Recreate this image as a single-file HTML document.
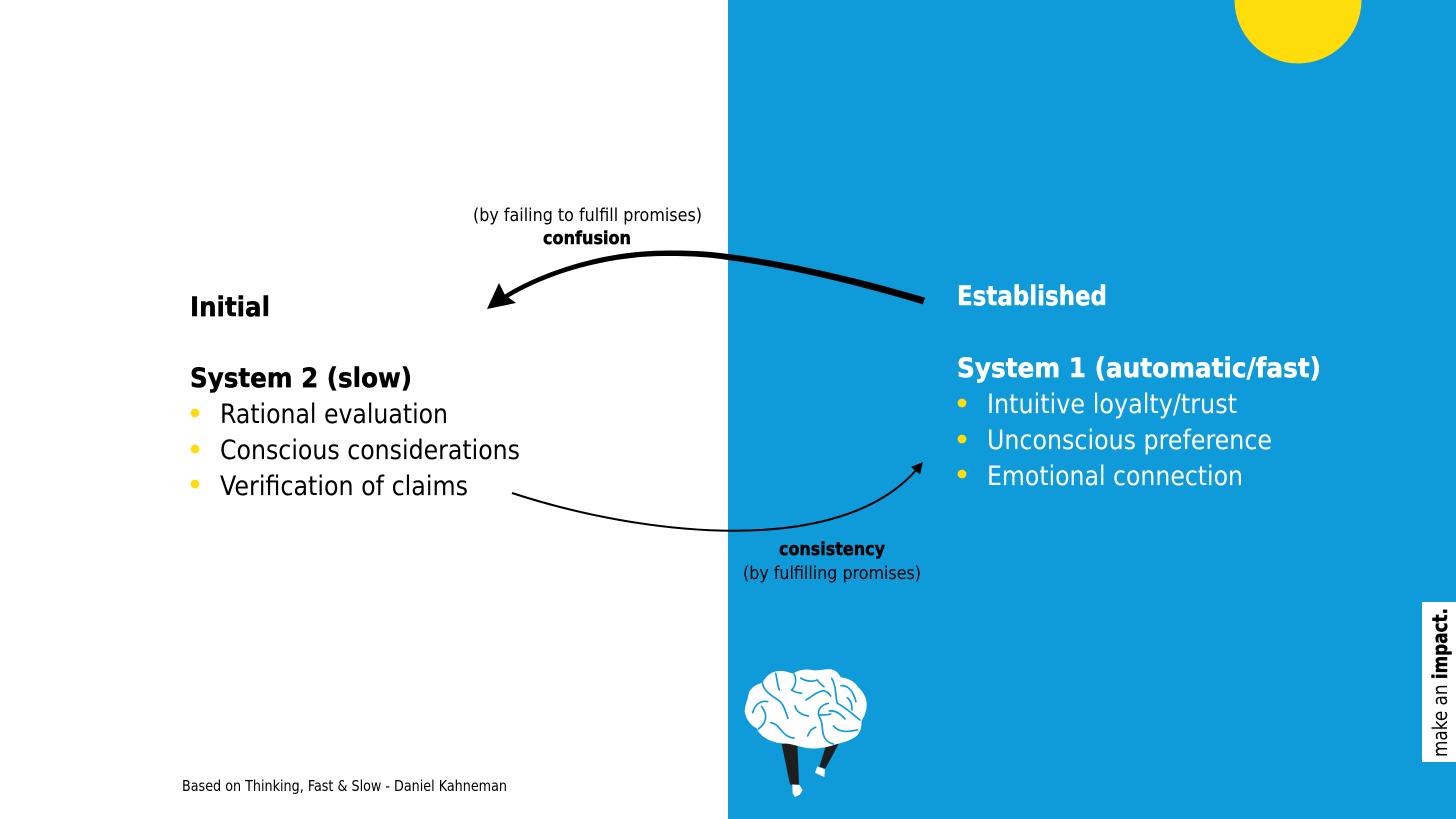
<!DOCTYPE html>
<html lang="en">
<head>
<meta charset="utf-8">
<title>System 1 and System 2</title>
<style>
html,body{margin:0;padding:0;background:#fff;width:1456px;height:819px;overflow:hidden}
svg{display:block}
text{font-family:"DejaVu Sans","Liberation Sans",sans-serif;fill:#000}
.b{font-weight:700;stroke:#000;stroke-width:.45px}
.h{font-size:27px}
.s{font-size:18px}
.w{fill:#fff}
.b.w{stroke:#fff}
</style>
</head>
<body>
<svg width="1456" height="819" viewBox="0 0 1456 819" xmlns="http://www.w3.org/2000/svg">
<rect width="1456" height="819" fill="#fff"/>
<rect x="728" y="0" width="728" height="819" fill="#0F9AD9"/>
<circle cx="1298" cy="0" r="63.5" fill="#FFDD0A"/>

<!-- Left text -->
<text class="h b" x="190" y="316" textLength="80" lengthAdjust="spacingAndGlyphs">Initial</text>
<text class="h b" x="190" y="387" textLength="222" lengthAdjust="spacingAndGlyphs">System 2 (slow)</text>
<circle cx="195" cy="413" r="4.4" fill="#FFDD0A"/>
<circle cx="195" cy="449" r="4.4" fill="#FFDD0A"/>
<circle cx="195" cy="484" r="4.4" fill="#FFDD0A"/>
<text class="h" x="220" y="423" textLength="228" lengthAdjust="spacingAndGlyphs">Rational evaluation</text>
<text class="h" x="220" y="459" textLength="300" lengthAdjust="spacingAndGlyphs">Conscious considerations</text>
<text class="h" x="220" y="495" textLength="248" lengthAdjust="spacingAndGlyphs">Verification of claims</text>

<!-- Right text -->
<text class="h b w" x="957" y="305" textLength="150" lengthAdjust="spacingAndGlyphs">Established</text>
<text class="h b w" x="957" y="377" textLength="364" lengthAdjust="spacingAndGlyphs">System 1 (automatic/fast)</text>
<circle cx="962" cy="403" r="4.4" fill="#FFDD0A"/>
<circle cx="962" cy="439" r="4.4" fill="#FFDD0A"/>
<circle cx="962" cy="474" r="4.4" fill="#FFDD0A"/>
<text class="h w" x="987" y="413" textLength="250" lengthAdjust="spacingAndGlyphs">Intuitive loyalty/trust</text>
<text class="h w" x="987" y="449" textLength="285" lengthAdjust="spacingAndGlyphs">Unconscious preference</text>
<text class="h w" x="987" y="485" textLength="256" lengthAdjust="spacingAndGlyphs">Emotional connection</text>

<!-- Arrow labels -->
<text class="s" x="473" y="221" textLength="229" lengthAdjust="spacingAndGlyphs">(by failing to fulfill promises)</text>
<text class="s b" x="543" y="244" textLength="88" lengthAdjust="spacingAndGlyphs">confusion</text>
<text class="s b" x="779" y="555" textLength="106" lengthAdjust="spacingAndGlyphs">consistency</text>
<text class="s" x="743" y="579" textLength="178" lengthAdjust="spacingAndGlyphs">(by fulfilling promises)</text>

<!-- Thick tapered arrow -->
<path d="M925,297.6 C860,278.5 790,262 728.4,254 C710,251.5 690,250.2 663,250.6 C600,251.2 539,273 503.8,295.1 L506.2,298.9 C541,277 600,256.6 663,256 C690,255.8 710,257 727.6,260 C790,268 860,285.5 923,304.4 Z" fill="#000"/>
<polygon points="487,309 499,283 505,295 516,303" fill="#000"/>

<!-- Thin arrow -->
<path d="M512,493 C640,535 840,560 918,468" fill="none" stroke="#000" stroke-width="2"/>
<polygon points="923,462 920,474.5 911,467" fill="#000"/>

<!-- Footer -->
<text x="182" y="791" font-size="15" textLength="325" lengthAdjust="spacingAndGlyphs">Based on Thinking, Fast &amp; Slow - Daniel Kahneman</text>

<!-- Brand tab -->
<rect x="1422" y="602" width="34" height="160" fill="#fff"/>
<text transform="translate(1447,757) rotate(-90)" font-size="20" textLength="149" lengthAdjust="spacingAndGlyphs">make an <tspan class="b">impact.</tspan></text>

<!-- Brain -->
<g transform="translate(720,650) scale(0.3333)">
<path d="M185,282 L232,279 L237,404 L210,404 Z" fill="#1E1E1E"/>
<path d="M318,287 L356,282 L316,356 L298,350 Z" fill="#1E1E1E"/>
<path d="M217,403 L238,405 L248,420 L240,434 L225,441 L218,430 Z" fill="#fff"/>
<path d="M292,349 L315,358 L313,381 L297,374 L285,368 Z" fill="#fff"/>
<path d="M74,185 C74,165 84,150 86,130 C92,112 110,103 128,98 C136,80 150,68 168,64 C185,60 205,66 218,71 C235,60 258,56 275,60 C295,64 315,55 335,58 C350,62 358,72 362,82 C385,84 405,95 415,112 C430,125 441,145 440,165 C440,185 432,200 425,212 C425,230 422,245 412,256 C395,270 370,278 350,282 C325,292 295,297 270,295 C240,292 215,280 190,280 C165,280 145,270 130,260 C118,250 112,240 110,235 C95,228 78,210 74,185 Z" fill="#fff"/>
<g fill="none" stroke="#0F9AD9" stroke-width="5" stroke-linecap="round">
<path d="M167,70 C172,90 172,105 178,120"/>
<path d="M128,100 C130,120 150,135 170,147 C190,158 195,180 204,205"/>
<path d="M222,72 C232,90 225,110 215,120 C225,128 235,128 245,130"/>
<path d="M242,84 C260,96 280,95 292,90 C298,100 305,105 312,110"/>
<path d="M258,150 C275,140 290,125 310,122 C320,124 328,130 332,138"/>
<path d="M225,168 C228,185 245,195 265,198"/>
<path d="M335,85 C350,110 345,135 352,160 C375,170 400,195 420,210"/>
<path d="M363,107 C385,105 400,125 408,155"/>
<path d="M382,143 C392,150 396,165 396,180"/>
<path d="M325,160 C300,165 288,185 300,205 C312,225 302,245 315,265 C322,275 330,280 340,282"/>
<path d="M328,183 C350,180 365,195 375,207"/>
<path d="M340,228 C360,250 385,245 412,240"/>
<path d="M300,195 C312,195 325,195 332,192"/>
<path d="M143,155 C120,150 105,165 98,188"/>
<path d="M125,170 C140,190 145,215 115,237"/>
<path d="M152,218 C180,220 185,262 222,264"/>
<path d="M287,232 C275,235 268,245 263,258"/>
</g>
</g>
</svg>
</body>
</html>
